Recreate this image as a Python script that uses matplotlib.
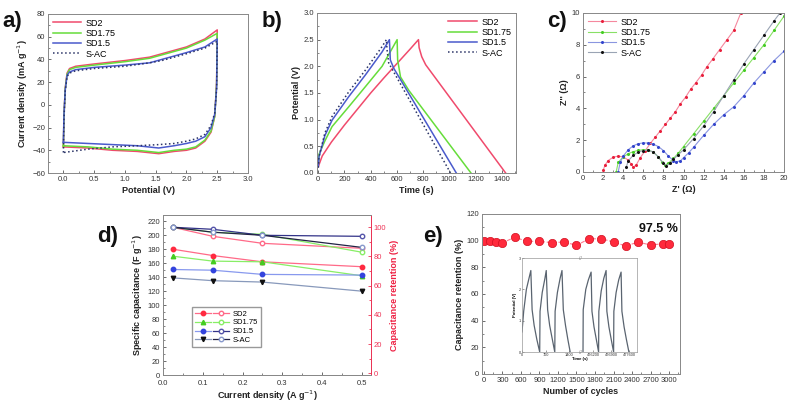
import matplotlib
matplotlib.use("Agg")
import matplotlib.pyplot as plt
from matplotlib.legend_handler import HandlerTuple
from matplotlib.ticker import AutoMinorLocator

plt.rcParams['font.family'] = ['Liberation Sans', 'DejaVu Sans']
plt.rcParams['font.size'] = 5.5
plt.rcParams['axes.edgecolor'] = '#888888'
plt.rcParams['axes.linewidth'] = 0.7
plt.rcParams['xtick.color'] = '#555555'
plt.rcParams['ytick.color'] = '#555555'
plt.rcParams['xtick.labelcolor'] = '#333333'
plt.rcParams['ytick.labelcolor'] = '#333333'

names = ['SD2', 'SD1.75', 'SD1.5', 'S-AC']
colors = ['#f04a6c', '#66dd3a', '#4a5acc', '#2a3366']

# ---- a) CV curves
cv_fwd_v = [0.0, 0.01, 0.03, 0.06, 0.1, 0.2, 0.5, 1.0, 1.4, 1.6, 2.0, 2.3, 2.5]
cv_rev_v = [2.5, 2.49, 2.46, 2.4, 2.3, 2.15, 2.0, 1.8, 1.55, 1.2, 0.8, 0.4, 0.0]
cv_fwd_i = [
    [-37, -10, 15, 28, 32, 34, 36, 39, 42, 45, 51, 58, 66],
    [-36, -10, 14, 27, 31, 33, 35, 38, 41, 44, 50, 57, 63],
    [-33, -8, 13, 26, 29, 31, 33, 35, 37, 40, 46, 51, 58],
    [-42, -12, 12, 25, 28, 30, 32, 34, 37, 39, 45, 50, 56],
]
cv_rev_i = [
    [66, 20, -10, -24, -32, -38, -40, -41, -43, -41, -40, -38, -37],
    [63, 18, -10, -23, -31, -37, -39, -40, -42, -40, -39, -37, -36],
    [58, 15, -8, -20, -28, -32, -34, -36, -38, -36, -35, -34, -33],
    [56, 14, -7, -18, -26, -30, -32, -34, -35, -36, -37, -39, -42],
]

# ---- b) GCD curves
gcd_t = [
    [0, 30, 100, 200, 300, 400, 500, 600, 700, 765, 770, 790, 820, 1431],
    [0, 5, 50, 105, 232, 360, 487, 602, 606, 628, 691, 1166],
    [0, 5, 50, 105, 232, 360, 487, 543, 550, 577, 1054],
    [0, 5, 50, 105, 232, 360, 487, 520, 525, 538, 1010],
]
gcd_v = [
    [0.12, 0.32, 0.58, 0.9, 1.2, 1.5, 1.78, 2.05, 2.32, 2.5, 2.35, 2.18, 2.03, 0.0],
    [0.15, 0.35, 0.6, 0.87, 1.24, 1.62, 2.0, 2.5, 2.12, 1.8, 1.55, 0.0],
    [0.12, 0.3, 0.7, 0.99, 1.43, 1.84, 2.27, 2.5, 2.12, 1.96, 0.0],
    [0.1, 0.3, 0.75, 1.06, 1.52, 1.93, 2.37, 2.5, 2.31, 2.06, 0.0],
]

# ---- c) Nyquist
eis_x = [
    [2.0, 2.2, 2.5, 3.0, 3.5, 4.0, 4.5, 4.8, 5.0, 5.3, 5.7, 6.2, 6.7, 7.2, 7.7, 8.2, 8.7,
     9.2, 9.7, 10.2, 10.7, 11.2, 11.8, 12.3, 12.9, 13.6, 14.3, 15.0, 15.7],
    [3.3, 3.5, 4.0, 4.5, 5.0, 5.5, 6.0, 6.5, 7.0, 7.5, 7.9, 8.2, 8.5, 9.0, 9.5, 10, 11, 12,
     13, 14, 15, 16, 17, 18, 19, 20],
    [3.5, 3.7, 4.0, 4.5, 5.0, 5.5, 6.0, 6.5, 7.0, 7.5, 8.0, 8.5, 9.0, 9.3, 9.7, 10, 10.5,
     11, 12, 13, 14, 15, 16, 17, 18, 19, 20],
    [4.3, 4.5, 5.0, 5.5, 6.0, 6.5, 7.0, 7.5, 8.0, 8.3, 8.7, 9.0, 9.5, 10, 11, 12, 13, 14,
     15, 16, 17, 18, 19, 19.6],
]
eis_y = [
    [0.1, 0.45, 0.72, 0.93, 1.0, 0.95, 0.75, 0.5, 0.3, 0.45, 0.9, 1.35, 1.8, 2.2, 2.6, 3.0,
     3.4, 3.8, 4.3, 4.7, 5.2, 5.6, 6.1, 6.6, 7.1, 7.7, 8.3, 8.9, 10.0],
    [0.0, 0.6, 0.95, 1.15, 1.28, 1.36, 1.4, 1.38, 1.25, 0.95, 0.6, 0.45, 0.55, 0.85, 1.2,
     1.6, 2.4, 3.2, 4.0, 4.8, 5.6, 6.4, 7.2, 8.0, 8.9, 9.8],
    [0.0, 0.6, 1.0, 1.4, 1.65, 1.78, 1.83, 1.82, 1.75, 1.6, 1.35, 1.0, 0.72, 0.65, 0.7,
     0.9, 1.2, 1.55, 2.3, 3.0, 3.6, 4.1, 4.8, 5.6, 6.3, 7.0, 7.6],
    [0.3, 0.7, 1.05, 1.25, 1.35, 1.38, 1.25, 0.95, 0.55, 0.4, 0.55, 0.8, 1.1, 1.4, 2.1,
     2.9, 3.8, 4.8, 5.8, 6.8, 7.7, 8.6, 9.5, 10.0],
]
eis_line = ['#f5889e', '#88e066', '#8a96e0', '#9aa4b4']
eis_mark = ['#e8203c', '#44cc22', '#3344cc', '#111111']

# ---- d) rate capability
rate_j = [0.025, 0.125, 0.25, 0.5]
cap = [[180, 171, 162, 155], [170, 163, 162, 142], [151, 150, 144, 143], [139, 135, 133, 120]]
retention = [[100, 93.8, 89, 85.6], [100, 96.6, 95.2, 82.9], [100, 98.6, 94.5, 93.8],
             [100, 96.6, 94.5, 86.2]]
d_fill_col = ['#ff2a40', '#44cc22', '#3344dd', '#111111']
d_fill_line = ['#ff6a88', '#88ee66', '#8899ee', '#8899bb']
d_open_col = ['#ff6a88', '#88ee66', '#5555aa', '#8899cc']
d_open_line = ['#ff6a88', '#88ee66', '#333388', '#222244']
d_mark = ['o', '^', 'o', 'v']

# ---- e) cycling
cycles = [0, 100, 200, 300, 500, 700, 900, 1100, 1300, 1500, 1700, 1900, 2100, 2300,
          2500, 2700, 2900, 3000]
cyc_ret = [100, 100, 98.7, 98.5, 102.5, 99.5, 99.5, 98.5, 99, 96.5, 101.3, 101.5, 99, 96,
           99, 96.7, 97.7, 97.7]

inset_left_t = [0, 50, 130, 262, 300, 360, 440, 525, 535, 600, 680, 719, 760, 820, 900,
                972, 982, 1050, 1130, 1186, 1225, 1290, 1360, 1429]
inset_left_v = [0.64, 1.3, 2.0, 2.6, 1.35, 0.85, 0.4, 0.0, 1.3, 1.9, 2.35, 2.6, 1.35,
                0.85, 0.4, 0.0, 1.3, 1.9, 2.35, 2.6, 1.35, 0.85, 0.4, 0.0]
inset_right_t = [475792, 475800, 475900, 476000, 476107, 476140, 476220, 476310, 476398,
                 476408, 476500, 476600, 476690, 476720, 476800, 476890, 476982,
                 476992, 477080, 477180, 477273, 477305, 477390, 477480, 477577]
inset_right_v = [0.0, 1.35, 2.0, 2.3, 2.55, 1.3, 0.8, 0.4, 0.0, 1.3, 1.95, 2.35, 2.6,
                 1.3, 0.8, 0.4, 0.0, 1.3, 1.9, 2.3, 2.55, 1.3, 0.8, 0.4, 0.0]

fig = plt.figure(figsize=(7.91, 4.04), dpi=100)
W, H = 791, 404


def box(l, t, r, b):
    return [l / W, 1 - b / H, (r - l) / W, (b - t) / H]


def style(ax, minor=True):
    ax.tick_params(direction='in', length=2.5, width=0.6, labelsize=5.5, pad=2)
    ax.tick_params(which='minor', direction='in', length=1.5, width=0.5)
    if minor:
        ax.xaxis.set_minor_locator(AutoMinorLocator(2))
        ax.yaxis.set_minor_locator(AutoMinorLocator(2))


lab = dict(fontsize=6.5, fontweight='bold', color='#222222')

# a
ax = fig.add_axes(box(48, 14, 248, 173))
for k in range(4):
    ls = ':' if k == 3 else '-'
    ax.plot(cv_fwd_v + cv_rev_v, cv_fwd_i[k] + cv_rev_i[k], color=colors[k], lw=1.1,
            ls=ls, label=names[k])
ax.set_xlim(-0.25, 3.0)
ax.set_ylim(-60, 80)
ax.set_xticks([0.0, 0.5, 1.0, 1.5, 2.0, 2.5, 3.0])
ax.set_yticks(range(-60, 81, 20))
style(ax)
ax.set_xlabel('Potential (V)', labelpad=2, **lab)
ax.set_ylabel('Current density (mA g$^{-1}$)', labelpad=2, **lab)
ax.legend(loc='upper left', frameon=False, fontsize=6.5, handlelength=3.2,
          borderaxespad=0.1, labelspacing=0.15, handletextpad=0.5)

# b
ax = fig.add_axes(box(317, 13, 516, 173))
for k in range(4):
    ls = ':' if k == 3 else '-'
    ax.plot(gcd_t[k], gcd_v[k], color=colors[k], lw=1.1, ls=ls, label=names[k])
ax.set_xlim(-10, 1510)
ax.set_ylim(0, 3)
ax.set_xticks(range(0, 1401, 200))
ax.set_yticks([0.0, 0.5, 1.0, 1.5, 2.0, 2.5, 3.0])
ax.yaxis.set_major_formatter(plt.FormatStrFormatter('%.1f'))
style(ax)
ax.set_xlabel('Time (s)', labelpad=2, **lab)
ax.set_ylabel('Potential (V)', labelpad=2, **lab)
ax.legend(loc='upper right', frameon=False, fontsize=6.5, handlelength=3.2,
          borderaxespad=0.1, labelspacing=0.15, handletextpad=0.5)

# c
ax = fig.add_axes(box(583, 13, 784, 172))
for k in range(4):
    ax.plot(eis_x[k], eis_y[k], color=eis_line[k], lw=0.8, marker='o', ms=1.2,
            mfc=eis_mark[k], mec=eis_mark[k], label=names[k])
ax.set_xlim(0, 20)
ax.set_ylim(0, 10)
ax.set_xticks(range(0, 21, 2))
ax.set_yticks(range(0, 11, 2))
style(ax)
ax.set_xlabel("Z' (\u03a9)", labelpad=2, **lab)
ax.set_ylabel("Z'' (\u03a9)", labelpad=2, **lab)
ax.legend(loc='upper left', frameon=False, fontsize=6.5, handlelength=3.2,
          borderaxespad=0.1, labelspacing=0.15, handletextpad=0.5)

# d
ax = fig.add_axes(box(163, 215, 371, 375))
ax2 = ax.twinx()
hand = []
for k in range(4):
    f, = ax.plot(rate_j, cap[k], color=d_fill_line[k], lw=0.9, marker=d_mark[k], ms=3.2,
                 mfc=d_fill_col[k], mec=d_fill_col[k])
    o, = ax2.plot(rate_j, retention[k], color=d_open_line[k], lw=0.9, marker='o', ms=3.2,
                  mfc='white', mec=d_open_col[k])
    hand.append((f, o))
ax.set_xlim(0, 0.523)
ax.set_ylim(0, 229)
ax2.set_ylim(-1.2, 108.4)
ax.set_xticks([0.0, 0.1, 0.2, 0.3, 0.4, 0.5])
ax.set_yticks(range(0, 221, 20))
ax2.set_yticks(range(0, 101, 20))
style(ax)
ax.tick_params(axis='x', pad=3.5)
ax2.tick_params(direction='in', length=2.5, width=0.6, labelsize=5.5, pad=2,
                colors='#ee3355', labelcolor='#ee3355')
ax2.yaxis.set_minor_locator(AutoMinorLocator(2))
ax2.tick_params(which='minor', direction='in', length=1.5, colors='#ee3355')
ax2.spines['right'].set_color('#ee3355')
ax.set_xlabel('Current density (A g$^{-1}$)', labelpad=1, **lab)
ax.set_ylabel('Specific capacitance (F g$^{-1}$)', labelpad=2, **lab)
ax2.set_ylabel('Capacitance retention (%)', labelpad=3, fontsize=6.5,
               fontweight='bold', color='#ee2244')
ax2.legend(hand, names, handler_map={tuple: HandlerTuple(ndivide=None, pad=0.3)},
           loc='lower left', bbox_to_anchor=(0.12, 0.15), fontsize=5.5,
           handlelength=4.5, fancybox=False, edgecolor='#999999', framealpha=1,
           labelspacing=0.2, handletextpad=0.4, borderpad=0.4)

# e
ax = fig.add_axes(box(482, 214, 680, 374))
ax.plot(cycles, cyc_ret, color='#ff7a90', lw=0.8, ls='--', marker='o', ms=6,
        mfc='#ff2a3c', mec='#d01020', mew=0.5)
ax.set_xlim(-32, 3178)
ax.set_ylim(0, 120)
ax.set_xticks(range(0, 3001, 300))
ax.set_yticks(range(0, 121, 20))
style(ax)
ax.set_xlabel('Number of cycles', labelpad=2, **lab)
ax.set_ylabel('Capacitance retention (%)', labelpad=2, **lab)
ax.text(2830, 104, '97.5 %', fontsize=9, fontweight='bold', ha='center',
        va='bottom', color='#111111')

# inset of e (broken axis)
il = fig.add_axes(box(522, 258, 580, 352))
ir = fig.add_axes(box(580, 258, 637, 352))
il.plot(inset_left_t, inset_left_v, color='#5a6470', lw=0.9)
ir.plot(inset_right_t, inset_right_v, color='#5a6470', lw=0.9)
il.set_xlim(0, 1720)
ir.set_xlim(475675, 477892)
for a_ in (il, ir):
    a_.set_ylim(0, 3)
    a_.tick_params(direction='in', length=1.5, width=0.4, labelsize=2.8, pad=1)
    for s in a_.spines.values():
        s.set_linewidth(0.5)
        s.set_color('#999999')
il.set_xticks([0, 700, 1400])
ir.set_xticks([476200, 476900, 477600])
ir.set_xticklabels(['476200', '476900', '477600'])
il.set_yticks([0, 1, 2, 3])
ir.set_yticks([])
il.spines['right'].set_visible(False)
ir.spines['left'].set_visible(False)
il.set_ylabel('Potential (V)', fontsize=3, fontweight='bold', labelpad=1)
fig.text(580 / W, 1 - 359 / H, 'Time (s)', fontsize=3, fontweight='bold', ha='center',
         va='center')
for yy in (258, 352):
    fig.text(580 / W, 1 - yy / H, '//', fontsize=3.5, ha='center', va='center',
             color='#777777')

# panel labels
for t, x, y in [('a)', 2, 27), ('b)', 262, 27), ('c)', 547, 27), ('d)', 97, 242),
                ('e)', 423, 242)]:
    fig.text(x / W, 1 - y / H, t, fontsize=16, fontweight='bold', ha='left',
             va='baseline', color='#111111')

fig.savefig('out.png', dpi=100)
